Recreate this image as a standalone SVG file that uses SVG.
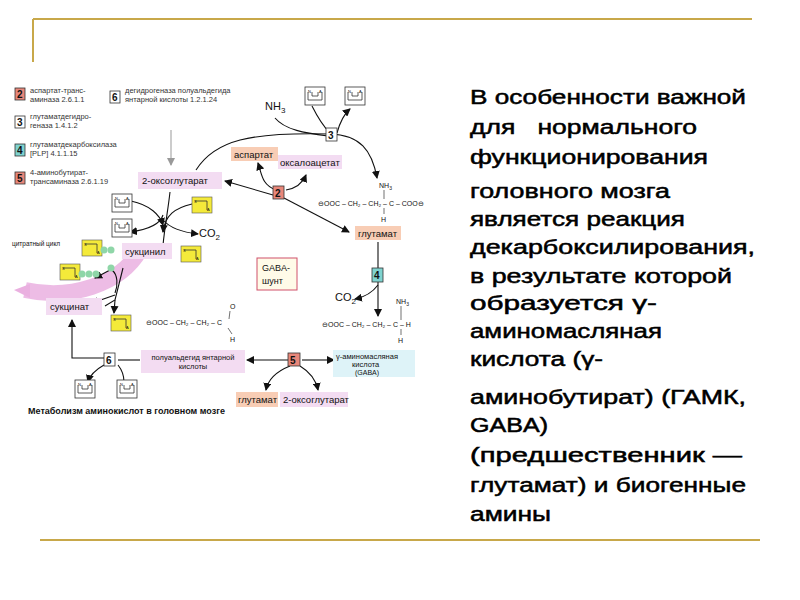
<svg xmlns="http://www.w3.org/2000/svg" width="800" height="600" viewBox="0 0 800 600">
<defs>
<marker id="ah" markerWidth="8" markerHeight="8" refX="7" refY="4" orient="auto" markerUnits="userSpaceOnUse"><path d="M0,0 L8,4 L0,8 z" fill="#111"/></marker>
<marker id="ahg" markerWidth="8" markerHeight="8" refX="7" refY="4" orient="auto" markerUnits="userSpaceOnUse"><path d="M0,0 L8,4 L0,8 z" fill="#999"/></marker>
<g id="na"><rect x="0" y="0" width="20" height="18" fill="#fff" stroke="#333" stroke-width="0.8"/><path d="M3,5 v8 h14 v-8 M7,5 v4 h6 v-4" fill="none" stroke="#333" stroke-width="0.8"/><text x="3" y="6" font-size="4">N</text><text x="14" y="6" font-size="4">A</text></g>
<g id="sa"><rect x="0" y="0" width="20" height="16" fill="#f4ea3a" stroke="#555" stroke-width="0.6"/><path d="M3,4 h12 v9" fill="none" stroke="#333" stroke-width="0.8"/><text x="2" y="6" font-size="4">S</text><text x="15" y="14" font-size="4">A</text></g>
</defs>
<style>
text{font-family:"Liberation Sans",Arial,sans-serif;fill:#111}
.r{font-size:20px;fill:#000;stroke:#000;stroke-width:0.5}
.s{font-size:7.5px;fill:#333}
.m{font-size:9.5px}
.bx{stroke:#333;stroke-width:0.8}
.c{fill:none;stroke:#111;stroke-width:1.1;marker-end:url(#ah)}
.c0{fill:none;stroke:#111;stroke-width:1.1}
.lav{fill:#f3dcf2}
.org{fill:#f8cdb5}
</style>
<rect width="800" height="600" fill="#fff"/>
<g id="frame" stroke="#c8a84a" stroke-width="2">
<line x1="33" y1="19" x2="752" y2="19"/><line x1="33" y1="19" x2="33" y2="62"/><line x1="40" y1="540" x2="760" y2="540"/>
</g>
<g id="legend">
<rect x="15" y="88" width="10" height="12" fill="#e8877a" class="bx"/><text x="17" y="98" font-size="10" font-weight="bold">2</text>
<text x="30" y="93" class="s">аспартат-транс-</text><text x="30" y="102" class="s">аминаза 2.6.1.1</text>
<rect x="110" y="91" width="10" height="12" fill="#fff" class="bx"/><text x="112" y="101" font-size="10" font-weight="bold">6</text>
<text x="125" y="93" class="s">дегидрогеназа полуальдегида</text><text x="125" y="102" class="s">янтарной кислоты 1.2.1.24</text>
<rect x="15" y="116" width="10" height="12" fill="#fff" class="bx"/><text x="17" y="126" font-size="10" font-weight="bold">3</text>
<text x="30" y="119" class="s">глутаматдегидро-</text><text x="30" y="128" class="s">геназа 1.4.1.2</text>
<rect x="15" y="144" width="10" height="12" fill="#7fd3cf" class="bx"/><text x="17" y="154" font-size="10" font-weight="bold">4</text>
<text x="30" y="147" class="s">глутаматдекарбоксилаза</text><text x="30" y="156" class="s">[PLP] 4.1.1.15</text>
<rect x="15" y="172" width="10" height="12" fill="#e8877a" class="bx"/><text x="17" y="182" font-size="10" font-weight="bold">5</text>
<text x="30" y="175" class="s">4-аминобутират-</text><text x="30" y="184" class="s">трансаминаза 2.6.1.19</text>
</g>
<g id="band"><path d="M140,250 C120,285 70,300 25,290" fill="none" stroke="#eab0e0" stroke-width="16" opacity="0.85"/><path d="M30,284 L14,290 L30,298 z" fill="#eab0e0"/></g>
<g id="connectors">
<path d="M171,130 L171,165" fill="none" stroke="#999" stroke-width="1" marker-end="url(#ahg)"/>
<path d="M196,170 C215,140 250,132 330,134 C360,135 372,150 377,178" class="c"/>
<path d="M275,118 C285,130 305,133 328,136" class="c0"/>
<path d="M337,133 C340,122 343,115 350,109" class="c"/>
<path d="M312,106 C318,118 322,125 330,133" class="c0"/>
<path d="M276,190 C262,185 262,175 258,163" class="c"/>
<path d="M286,190 C298,188 303,182 306,175" class="c"/>
<path d="M273,195 L225,181" class="c"/>
<path d="M284,198 L349,232" class="c"/>
<path d="M131,201 C150,205 160,215 163,225" class="c"/>
<path d="M192,204 C175,208 165,215 163,232" class="c"/>
<path d="M163,215 C160,225 145,230 130,232" class="c"/>
<path d="M163,220 C170,228 180,232 198,234" class="c"/>
<path d="M170,192 C168,210 165,225 163,245" class="c0"/>
<path d="M378,242 L378,268" class="c0"/>
<path d="M378,282 L378,316" class="c"/>
<path d="M378,285 C372,293 365,297 355,299" class="c"/>
<path d="M123,268 C120,280 118,288 115,300 L105,306" class="c0"/>
<path d="M115,295 L92,303" class="c"/>
<path d="M115,300 L114,313" class="c"/>
<path d="M112,270 C118,275 118,285 115,293" class="c0"/>
<path d="M110,270 L95,278" class="c"/>
<path d="M113,358 L72,358 L72,320" class="c"/>
<path d="M140,360 L118,360" class="c0"/>
<path d="M104,365 C95,370 90,375 88,382" class="c"/>
<path d="M118,365 C122,370 124,375 124,382" class="c0"/>
<path d="M288,360 L247,360" class="c"/>
<path d="M302,360 L334,360" class="c"/>
<path d="M290,366 C275,372 268,380 266,390" class="c"/>
<path d="M300,366 C310,372 316,380 318,390" class="c"/>
</g>
<g id="nodes">
<text x="265" y="110" font-size="11">NH<tspan font-size="8" dy="3">3</tspan></text>
<use href="#na" x="305" y="87"/><use href="#na" x="345" y="87"/>
<g id="n3"><rect x="326" y="128" width="11" height="13" fill="#fff" class="bx"/><text x="328" y="139" font-size="10" font-weight="bold">3</text></g>
<rect x="231" y="147" width="47" height="14" class="org"/><text x="234" y="158" class="m">аспартат</text>
<rect x="278" y="155" width="64" height="14" class="lav"/><text x="280" y="166" class="m">оксалоацетат</text>
<rect x="138" y="172" width="84" height="17" class="lav"/><text x="142" y="184" class="m">2-оксоглутарат</text>
<g id="n2"><rect x="273" y="186" width="11" height="13" fill="#e8877a" class="bx"/><text x="275" y="197" font-size="10" font-weight="bold">2</text></g>
<text x="379" y="188" font-size="7">NH<tspan font-size="5" dy="2">3</tspan></text>
<text x="318" y="206" font-size="7">⊖OOC – CH₂ – CH₂ – C – COO⊖</text>
<line x1="384" y1="190" x2="384" y2="199" stroke="#333" stroke-width="0.7"/><line x1="384" y1="208" x2="384" y2="214" stroke="#333" stroke-width="0.7"/>
<text x="381" y="222" font-size="7">H</text>
<rect x="355" y="226" width="46" height="14" class="org"/><text x="358" y="237" class="m">глутамат</text>
<use href="#na" x="112" y="194"/><use href="#na" x="112" y="219"/><use href="#sa" x="192" y="197"/>
<text x="199" y="237" font-size="11">CO<tspan font-size="8" dy="3">2</tspan></text>
<text x="12" y="246" font-size="6.5">цитратный цикл</text>
<use href="#sa" x="82" y="240"/><circle cx="104" cy="250" r="3.5" fill="#8fd6a8"/><circle cx="111" cy="250" r="3.5" fill="#8fd6a8"/>
<use href="#sa" x="60" y="264"/><circle cx="82" cy="274" r="3.5" fill="#8fd6a8"/><circle cx="89" cy="274" r="3.5" fill="#8fd6a8"/><circle cx="96" cy="274" r="3.5" fill="#8fd6a8"/>
<circle cx="111" cy="268" r="3.5" fill="#8fd6a8"/>
<rect x="122" y="243" width="50" height="16" class="lav"/><text x="125" y="255" class="m">сукцинил</text>
<use href="#sa" x="181" y="246"/>
<rect x="46" y="298" width="56" height="17" class="lav"/><text x="50" y="310" class="m">сукцинат</text>
<use href="#sa" x="111" y="315"/>
<rect x="257" y="258" width="40" height="32" fill="#fffbe8" stroke="#d0506a" stroke-width="1"/><text x="262" y="271" font-size="9">GABA-</text><text x="262" y="284" font-size="9">шунт</text>
<g id="n4"><rect x="372" y="268" width="11" height="14" fill="#7fd3cf" class="bx"/><text x="374" y="279" font-size="10" font-weight="bold">4</text></g>
<text x="335" y="301" font-size="11">CO<tspan font-size="8" dy="3">2</tspan></text>
<text x="396" y="304" font-size="7">NH<tspan font-size="5" dy="2">3</tspan></text>
<text x="322" y="327" font-size="7">⊖OOC – CH₂ – CH₂ – C – H</text>
<line x1="401" y1="306" x2="401" y2="320" stroke="#333" stroke-width="0.7"/><line x1="401" y1="329" x2="401" y2="335" stroke="#333" stroke-width="0.7"/><text x="398" y="343" font-size="7">H</text>
<text x="146" y="325" font-size="7">⊖OOC – CH₂ – CH₂ – C</text>
<text x="230" y="309" font-size="7">O</text><line x1="230" y1="311" x2="229" y2="319" stroke="#333" stroke-width="0.7"/><line x1="228" y1="328" x2="232" y2="334" stroke="#333" stroke-width="0.7"/><text x="230" y="342" font-size="7">H</text>
<g id="n6"><rect x="104" y="353" width="11" height="13" fill="#fff" class="bx"/><text x="106" y="364" font-size="10" font-weight="bold">6</text></g>
<rect x="141" y="350" width="104" height="23" class="lav"/><text x="193" y="360" font-size="7.5" text-anchor="middle">полуальдегид янтарной</text><text x="193" y="369" font-size="7.5" text-anchor="middle">кислоты</text>
<g id="n5"><rect x="288" y="353" width="12" height="13" fill="#e8877a" class="bx"/><text x="290" y="364" font-size="10" font-weight="bold">5</text></g>
<rect x="333" y="350" width="82" height="27" fill="#def3f8"/><text x="336" y="359" font-size="7.5">γ-аминомасляная</text><text x="352" y="367" font-size="7.5">кислота</text><text x="355" y="375" font-size="7">(GABA)</text>
<rect x="236" y="392" width="42" height="15" class="org"/><text x="238" y="403" class="m">глутамат</text>
<rect x="280" y="392" width="68" height="15" class="lav"/><text x="283" y="403" class="m">2-оксоглутарат</text>
<use href="#na" x="75" y="380"/><use href="#na" x="117" y="380"/>
<text x="28" y="414" font-size="9" font-weight="bold">Метаболизм аминокислот в головном мозге</text>
</g>
<g id="body">
<text x="470" y="104" class="r" textLength="276" lengthAdjust="spacingAndGlyphs">В особенности важной</text>
<text x="470" y="134" class="r" xml:space="preserve" textLength="227" lengthAdjust="spacingAndGlyphs">для   нормального</text>
<text x="470" y="164" class="r" textLength="238" lengthAdjust="spacingAndGlyphs">функционирования</text>
<text x="470" y="198" class="r" textLength="200" lengthAdjust="spacingAndGlyphs">головного мозга</text>
<text x="470" y="226" class="r" textLength="215" lengthAdjust="spacingAndGlyphs">является реакция</text>
<text x="470" y="254" class="r" textLength="285" lengthAdjust="spacingAndGlyphs">декарбоксилирования,</text>
<text x="470" y="283" class="r" textLength="262" lengthAdjust="spacingAndGlyphs">в результате которой</text>
<text x="470" y="310" class="r" textLength="187" lengthAdjust="spacingAndGlyphs">образуется γ-</text>
<text x="470" y="338" class="r" textLength="192" lengthAdjust="spacingAndGlyphs">аминомасляная</text>
<text x="470" y="366" class="r" textLength="133" lengthAdjust="spacingAndGlyphs">кислота (γ-</text>
<text x="470" y="404" class="r" textLength="276" lengthAdjust="spacingAndGlyphs">аминобутират) (ГАМК,</text>
<text x="470" y="432" class="r" textLength="78" lengthAdjust="spacingAndGlyphs">GABA)</text>
<text x="470" y="462" class="r" textLength="272" lengthAdjust="spacingAndGlyphs">(предшественник —</text>
<text x="470" y="492" class="r" textLength="276" lengthAdjust="spacingAndGlyphs">глутамат) и биогенные</text>
<text x="470" y="521" class="r" textLength="81" lengthAdjust="spacingAndGlyphs">амины</text>
</g>
</svg>
